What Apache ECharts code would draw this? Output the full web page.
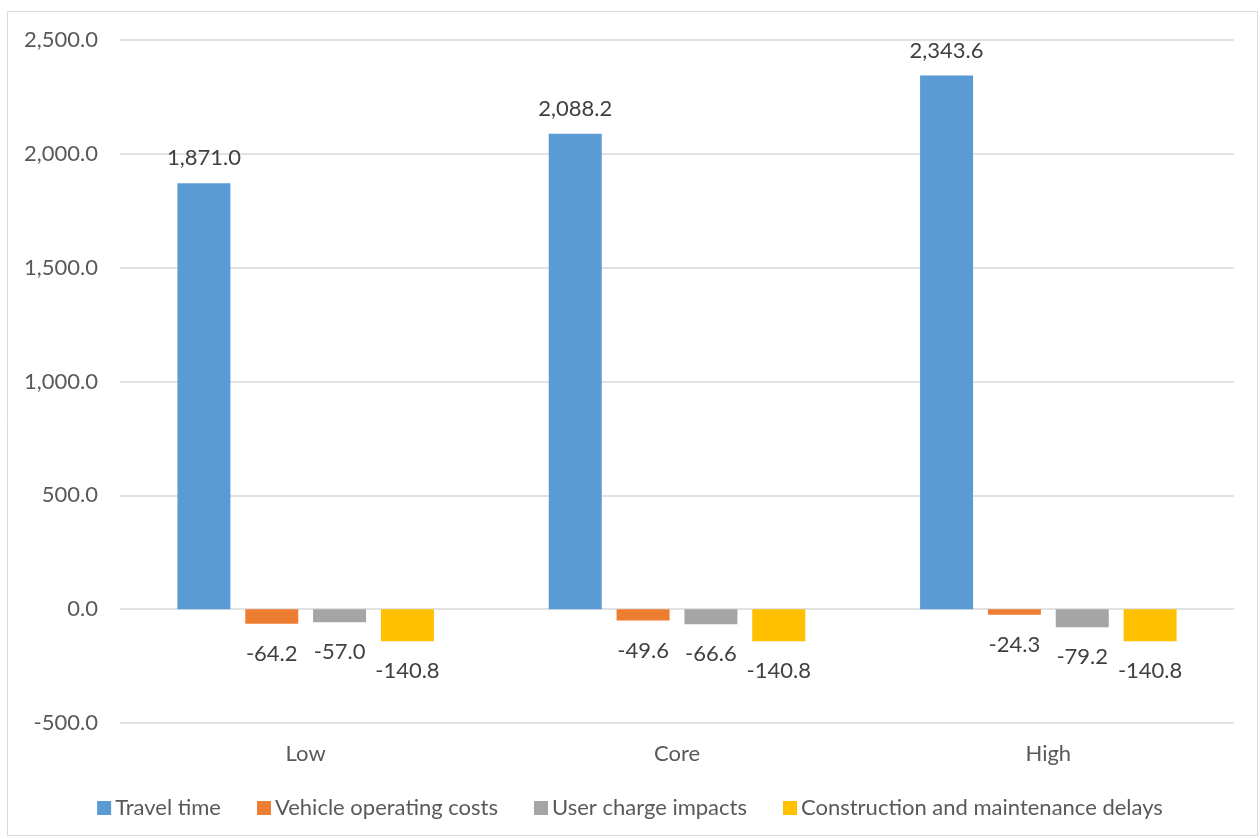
<!DOCTYPE html>
<html>
<head>
<meta charset="utf-8">
<script src="https://cdn.jsdelivr.net/npm/echarts@6/dist/echarts.min.js"></script>
<style>
  html, body { margin: 0; padding: 0; background: #ffffff; }
  #chart { width: 1260px; height: 839px; }
</style>
</head>
<body>
<div id="chart"></div>
<script>
// Scenario categories
const categories = ['Low', 'Core', 'High'];

// Benefit components per scenario
const travelTime = [1871.0, 2088.2, 2343.6];
const vehicleOperatingCosts = [-64.2, -49.6, -24.3];
const userChargeImpacts = [-57.0, -66.6, -79.2];
const constructionDelays = [-140.8, -140.8, -140.8];

const seriesNames = [
  'Travel time',
  'Vehicle operating costs',
  'User charge impacts',
  'Construction and maintenance delays'
];
const seriesValues = [travelTime, vehicleOperatingCosts, userChargeImpacts, constructionDelays];
const seriesColors = ['#5B9BD5', '#ED7D31', '#A5A5A5', '#FFC000'];

// Y axis range
const yMin = -500;
const yMax = 2500;
const yStep = 500;

const FONT = 'Lato';
const FS = 22;

function fmt(v) {
  return v.toLocaleString('en-US', { minimumFractionDigits: 1, maximumFractionDigits: 1 });
}

const chart = echarts.init(document.getElementById('chart'), null, { renderer: 'canvas' });

const series = seriesValues.map((vals, i) => ({
  name: seriesNames[i],
  type: 'bar',
  barWidth: 53,
  barGap: '28%',
  itemStyle: { color: seriesColors[i] },
  data: vals.map(v => ({
    value: v,
    label: v >= 0 ? { position: 'top', distance: 14 } : { position: 'bottom', distance: 19 }
  })),
  label: {
    show: true,
    color: '#404040',
    fontFamily: FONT,
    fontSize: FS,
    formatter: p => fmt(p.value)
  }
}));

chart.setOption({
  animation: false,
  backgroundColor: '#ffffff',
  textStyle: { fontFamily: FONT },
  graphic: [{
    type: 'rect',
    shape: { x: 7.5, y: 11.5, width: 1250, height: 824 },
    style: { fill: 'none', stroke: '#d9d9d9', lineWidth: 1 },
    silent: true,
    z: -1
  }],
  grid: { left: 120, right: 26, top: 40, bottom: 116, containLabel: false },
  legend: {
    bottom: 15,
    left: 'center',
    icon: 'rect',
    itemWidth: 14,
    itemHeight: 14,
    itemGap: 36,
    textStyle: { color: '#595959', fontSize: FS, fontFamily: FONT, padding: [0, 0, 0, -1] },
    data: seriesNames
  },
  xAxis: {
    type: 'category',
    data: categories,
    position: 'bottom',
    axisLine: { show: false, onZero: false },
    axisTick: { show: false },
    axisLabel: { color: '#595959', fontSize: FS, fontFamily: FONT, margin: 20 },
    splitLine: { show: false }
  },
  yAxis: {
    type: 'value',
    min: yMin,
    max: yMax,
    interval: yStep,
    axisLine: { show: false },
    axisTick: { show: false },
    axisLabel: {
      color: '#595959',
      fontSize: FS,
      fontFamily: FONT,
      margin: 22,
      formatter: v => fmt(v)
    },
    splitLine: { lineStyle: { color: '#d9d9d9', width: 1.5 } }
  },
  series: series
});
</script>
</body>
</html>
